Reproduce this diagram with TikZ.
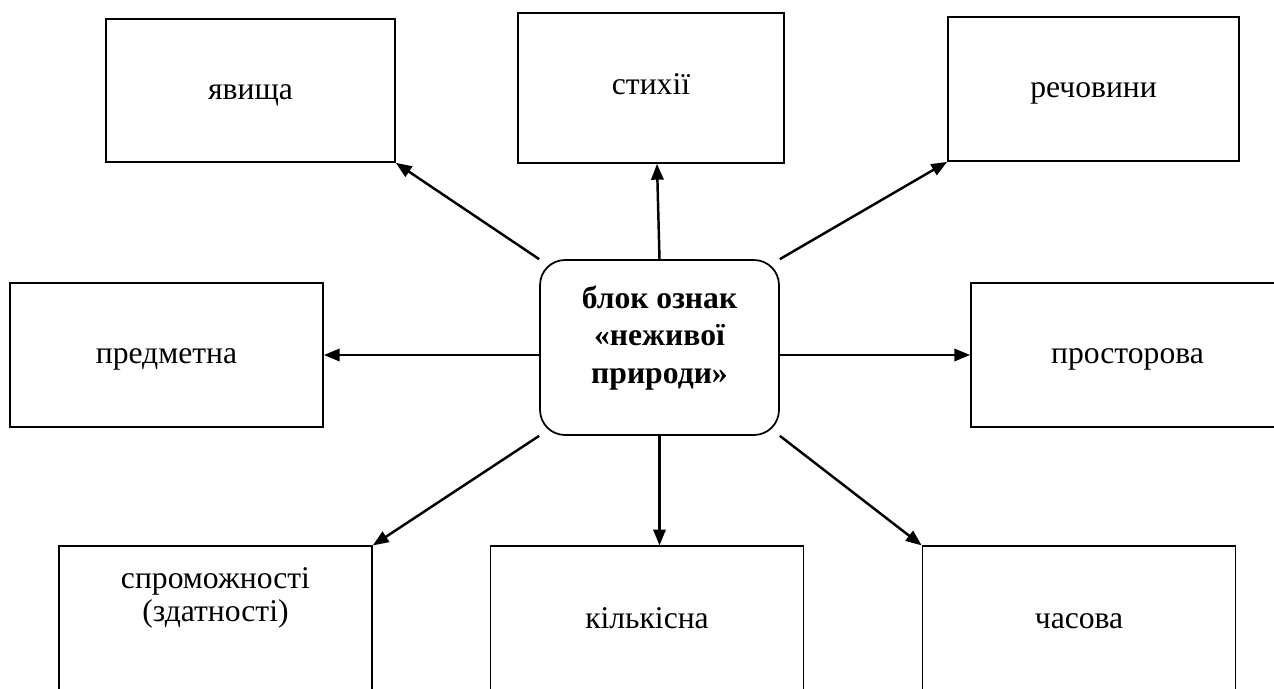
\documentclass[tikz,border=0pt]{standalone}
\usepackage{fontspec}
\setmainfont{Liberation Serif}
\usetikzlibrary{arrows.meta, positioning}

\begin{document}
\begin{tikzpicture}[
    x=0.02cm, y=-0.02cm,
    every node/.style={font=\fontsize{18}{22}\selectfont},
    sign/.style={rectangle, draw, line width=1pt, minimum width=6.26cm, minimum height=2.88cm, align=center, text height=12pt, text depth=2pt},
    block/.style={rectangle, draw, line width=1pt, rounded corners=0.5cm, minimum width=4.78cm, minimum height=3.5cm, align=center, font=\fontsize{18}{22}\selectfont\bfseries},
    arrow/.style={-{Triangle[length=9pt,width=7pt]}, line width=1.4pt}
]

\clip (0,0) rectangle (1274,689);

\node[block, text height=12pt, text depth=56.9pt] (centre) at (659.5,347.5)
{\def\arraystretch{0.98}\begin{tabular}[t]{@{}c@{}}блок ознак\\«неживої\\природи»\end{tabular}};

\node[sign, minimum width=5.78cm, minimum height=2.86cm] (yavyshcha) at (250.5,90.5) {явища};
\node[sign, minimum width=5.32cm, minimum height=3cm, text depth=5pt] (stykhii) at (651,88) {стихії};
\node[sign, minimum width=5.82cm] (rechovyny) at (1093.5,89) {речовини};

\node[sign] (predmetna) at (166.5,355) {предметна};
\node[sign] (prostorova) at (1127.5,355) {просторова};

\node[sign, minimum height=2.95cm, text depth=48.2pt] (spromozhnosti) at (215.5,620) {\def\arraystretch{0.85}\begin{tabular}[t]{@{}c@{}}спроможності\\(здатності)\end{tabular}};
\node[sign, minimum height=2.95cm] (kilkisna) at (647,620) {кількісна};
\node[sign, minimum height=2.95cm] (chasova) at (1079,620) {часова};

\draw[arrow] (centre.north west) -- (yavyshcha.south east);
\draw[arrow] (centre.north) -- ([xshift=0.12cm]stykhii.south);
\draw[arrow] (centre.north east) -- (rechovyny.south west);

\draw[arrow] (predmetna.east -| centre.west) -- (predmetna.east);
\draw[arrow] (prostorova.west -| centre.east) -- (prostorova.west);

\draw[arrow] (centre.south west) -- (spromozhnosti.north east);
\draw[arrow] (centre.south) -- (centre.south |- kilkisna.north);
\draw[arrow] (centre.south east) -- (chasova.north west);

\end{tikzpicture}
\end{document}
